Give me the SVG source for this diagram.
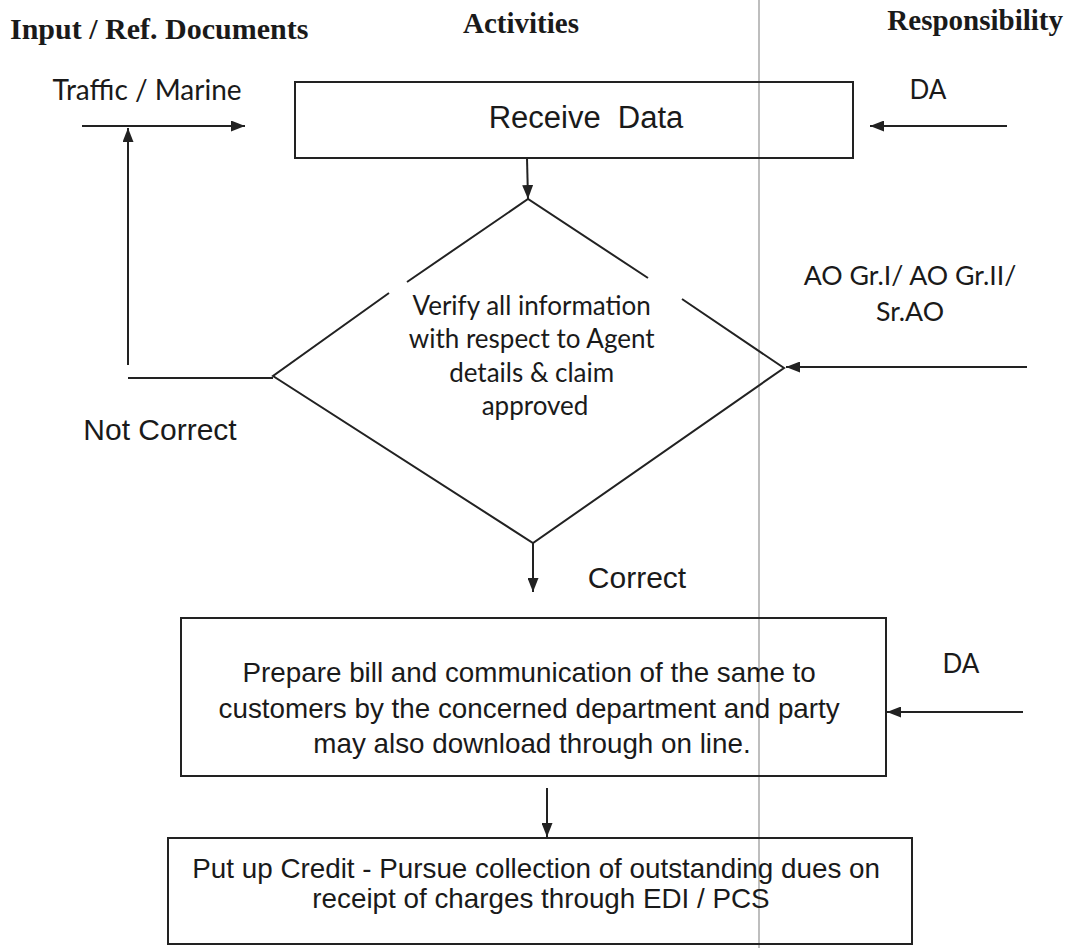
<svg xmlns="http://www.w3.org/2000/svg" width="1074" height="948" viewBox="0 0 1074 948">
  <style>
    .hdr { font-family: "Liberation Serif", "Times New Roman", serif; font-weight: bold; font-size: 29px; fill: #1a1a1a; }
    .arial { font-family: "Liberation Sans", Arial, sans-serif; font-size: 27.8px; fill: #1a1a1a; }
    .lbl { font-family: "Liberation Sans", Arial, sans-serif; font-size: 30px; fill: #1a1a1a; }
    .cal { font-family: Lato, "Open Sans", sans-serif; font-size: 26px; fill: #1a1a1a; }
    .box { fill: none; stroke: #222; stroke-width: 2; }
    .ln { fill: none; stroke: #222; stroke-width: 2; }
    .arr { fill: none; stroke: #222; stroke-width: 2; marker-end: url(#head); }
    .lane { stroke: #a8a8a8; stroke-width: 1.5; }
  </style>
  <defs>
    <marker id="head" viewBox="0 0 14 11" refX="14" refY="5.5" markerWidth="14" markerHeight="11" markerUnits="userSpaceOnUse" orient="auto">
      <path d="M0,0 L14,5.5 L0,11 Z" fill="#222"/>
    </marker>
  </defs>
  <rect width="1074" height="948" fill="#ffffff"/>

  <!-- column divider -->
  <line class="lane" x1="759" y1="0" x2="759" y2="948"/>

  <!-- column headings -->
  <g id="headings">
    <text class="hdr" x="10" y="39" style="font-size:30px">Input / Ref. Documents</text>
    <text class="hdr" x="521" y="33" text-anchor="middle">Activities</text>
    <text class="hdr" x="1063" y="30" text-anchor="end">Responsibility</text>
  </g>

  <!-- nodes -->
  <g id="receive-data">
    <rect class="box" x="295" y="82" width="558" height="76"/>
    <text class="lbl" x="586" y="128" text-anchor="middle" xml:space="preserve" style="font-size:31px">Receive  Data</text>
  </g>

  <g id="verify">
    <path class="ln" d="M407,282 L528,199 L648,278"/>
    <path class="ln" d="M682,299 L784,368 L533,543 L273,376 L389,293"/>
    <text class="cal" text-anchor="middle">
      <tspan x="535" y="315">Verify all information</tspan>
      <tspan x="535" y="348">with respect to Agent</tspan>
      <tspan x="535" y="382">details &amp; claim</tspan>
      <tspan x="535" y="415">approved</tspan>
    </text>
  </g>

  <g id="prepare-bill">
    <rect class="box" x="181" y="618" width="705" height="158"/>
    <text class="arial" text-anchor="middle">
      <tspan x="533" y="682">Prepare bill and communication of the same to</tspan>
      <tspan x="533" y="718">customers by the concerned department and party</tspan>
      <tspan x="532" y="753">may also download through on line.</tspan>
    </text>
  </g>

  <g id="put-up-credit">
    <rect class="box" x="168" y="838" width="744" height="106"/>
    <text class="arial" text-anchor="middle">
      <tspan x="540" y="878">Put up Credit - Pursue collection of outstanding dues on</tspan>
      <tspan x="541" y="908">receipt of charges through EDI / PCS</tspan>
    </text>
  </g>

  <!-- side labels -->
  <g id="labels">
    <text class="cal" x="147" y="100" text-anchor="middle" style="font-size:28px">Traffic / Marine</text>
    <text class="cal" x="928" y="99" text-anchor="middle">DA</text>
    <text class="cal" x="910" y="285" text-anchor="middle" style="font-size:26.7px">AO Gr.I/ AO Gr.II/</text>
    <text class="cal" x="910" y="321" text-anchor="middle" style="font-size:26.7px">Sr.AO</text>
    <text class="cal" x="961" y="673" text-anchor="middle">DA</text>
    <text class="lbl" x="160" y="440" text-anchor="middle">Not Correct</text>
    <text class="lbl" x="637" y="588" text-anchor="middle">Correct</text>
  </g>

  <!-- connectors -->
  <g id="connectors">
    <line class="arr" x1="82" y1="126" x2="245" y2="126"/>
    <line class="arr" x1="1007" y1="126" x2="870" y2="126"/>
    <line class="arr" x1="527" y1="158" x2="528" y2="199"/>
    <line class="arr" x1="1027" y1="367" x2="786" y2="367"/>
    <line class="ln" x1="273" y1="378" x2="128" y2="378"/>
    <line class="arr" x1="128" y1="365" x2="128" y2="128"/>
    <line class="arr" x1="533" y1="543" x2="533" y2="592"/>
    <line class="arr" x1="1023" y1="712" x2="887" y2="712"/>
    <line class="arr" x1="547" y1="788" x2="547" y2="837"/>
  </g>
</svg>
